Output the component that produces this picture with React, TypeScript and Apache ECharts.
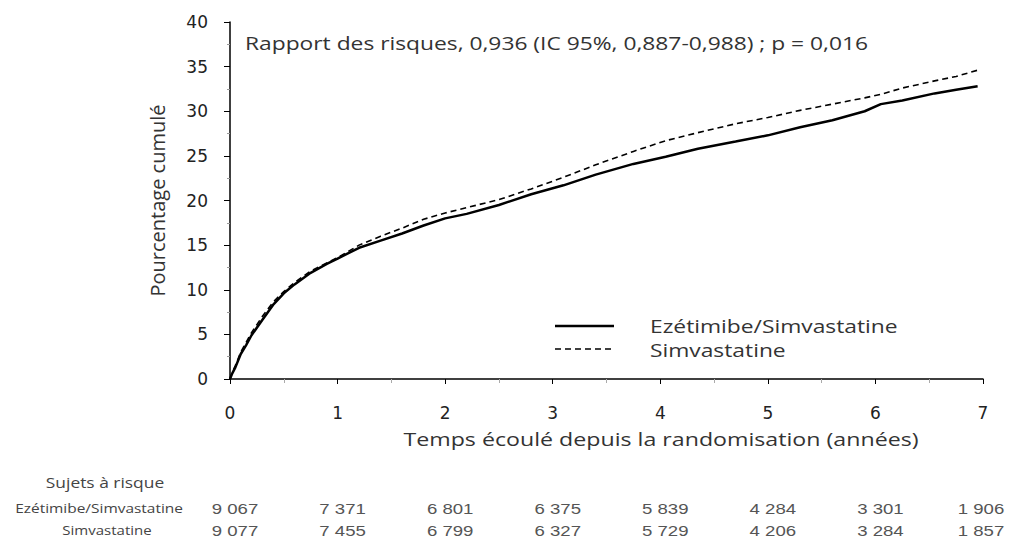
import React, { useEffect, useRef } from "react";
import * as echarts from "echarts";

// Time since randomisation (years)
const years = [0, 0.02, 0.05, 0.1, 0.15, 0.2, 0.3, 0.4, 0.5, 0.6, 0.75, 0.9, 1.0, 1.2, 1.4, 1.6, 1.8, 2.0, 2.2, 2.5, 2.8, 3.1, 3.4, 3.75, 4.05, 4.35, 4.7, 5.0, 5.3, 5.6, 5.9, 6.05, 6.25, 6.55, 6.75, 6.95];
// Cumulative percentage, Ezétimibe/Simvastatine
const ezetimibeSimvastatine = [0, 0.6, 1.3, 2.8, 3.8, 4.9, 6.6, 8.3, 9.6, 10.6, 11.9, 12.9, 13.5, 14.7, 15.5, 16.3, 17.2, 18.0, 18.5, 19.5, 20.7, 21.7, 22.9, 24.1, 24.9, 25.8, 26.6, 27.3, 28.2, 29.0, 30.0, 30.8, 31.2, 32.0, 32.4, 32.8];
// Cumulative percentage, Simvastatine
const simvastatine = [0, 0.7, 1.5, 3.0, 4.1, 5.2, 7.0, 8.6, 9.8, 10.8, 12.1, 13.0, 13.6, 15.0, 16.0, 16.9, 17.9, 18.6, 19.2, 20.1, 21.3, 22.6, 24.0, 25.5, 26.7, 27.6, 28.6, 29.3, 30.1, 30.8, 31.5, 31.9, 32.6, 33.4, 33.9, 34.6];

const seriesNames = ["Ezétimibe/Simvastatine", "Simvastatine"];
const annotation = "Rapport des risques, 0,936 (IC 95%, 0,887-0,988) ; p = 0,016";
const xAxisName = "Temps écoulé depuis la randomisation (années)";
const yAxisName = "Pourcentage cumulé";

// Subjects at risk table
const riskTitle = "Sujets à risque";
const riskYears = [0, 1, 2, 3, 4, 5, 6, 7];
const riskEzetimibeSimvastatine = ["9 067", "7 371", "6 801", "6 375", "5 839", "4 284", "3 301", "1 906"];
const riskSimvastatine = ["9 077", "7 455", "6 799", "6 327", "5 729", "4 206", "3 284", "1 857"];

const CAL = "'Open Sans', 'Noto Sans', sans-serif";
const ARI = "'DejaVu Sans', 'Liberation Sans', sans-serif";
const LIB = "'Liberation Sans', Arial, sans-serif";
const TXT = "#333";

export default function App() {
  const ref = useRef<HTMLDivElement>(null);
  useEffect(() => {
    if (!ref.current) return;
    const chart = echarts.init(ref.current, null, { renderer: "svg" });
    const option: any = {
      animation: false,
      backgroundColor: "#fff",
      grid: { left: 230, right: 26, top: 22, bottom: 163 },
      xAxis: {
        type: "value",
        min: 0,
        max: 7,
        interval: 1,
        axisLine: { show: true, lineStyle: { color: "#000", width: 1.5 } },
        axisTick: { show: true, length: 5, lineStyle: { color: "#000" } },
        minorTick: { show: true, splitNumber: 2, length: 4, lineStyle: { color: "#aaa" } },
        splitLine: { show: false },
        axisLabel: { fontFamily: ARI, fontSize: 17, color: "#222", margin: 25 },
      },
      yAxis: {
        type: "value",
        min: 0,
        max: 40,
        interval: 5,
        name: yAxisName,
        nameLocation: "middle",
        nameGap: 63,
        nameTextStyle: { fontFamily: CAL, fontSize: 20, color: TXT },
        axisLine: { show: true, lineStyle: { color: "#000", width: 1.5 } },
        axisTick: { show: true, length: 6, lineStyle: { color: "#000" } },
        minorTick: { show: true, splitNumber: 2, length: 3, lineStyle: { color: "#999" } },
        splitLine: { show: false },
        axisLabel: { fontFamily: ARI, fontSize: 17, color: "#222", margin: 22 },
      },
      series: [
        {
          name: seriesNames[0],
          type: "line",
          data: years.map((t, i) => [t, ezetimibeSimvastatine[i]]),
          symbol: "none",
          showSymbol: false,
          lineStyle: { color: "#000", width: 2.5, type: "solid" },
          itemStyle: { color: "#000" },
        },
        {
          name: seriesNames[1],
          type: "line",
          data: years.map((t, i) => [t, simvastatine[i]]),
          symbol: "none",
          showSymbol: false,
          lineStyle: { color: "#000", width: 1.6, type: [6, 4] },
          itemStyle: { color: "#000" },
        },
      ],
    };
    chart.setOption(option);

    const graphics: any[] = [
      {
        type: "text",
        x: 245,
        y: 43,
        scaleX: 1.2,
        style: { text: annotation, fontFamily: CAL, fontSize: 19, fill: TXT, verticalAlign: "middle", align: "left" },
      },
      {
        type: "text",
        x: 661,
        y: 438,
        scaleX: 1.22,
        style: { text: xAxisName, fontFamily: CAL, fontSize: 19, fill: TXT, verticalAlign: "middle", align: "center" },
      },
      // legend
      {
        type: "line",
        shape: { x1: 555, y1: 326, x2: 614, y2: 326 },
        style: { stroke: "#000", lineWidth: 2.5 },
      },
      {
        type: "line",
        shape: { x1: 555, y1: 349, x2: 614, y2: 349 },
        style: { stroke: "#000", lineWidth: 1.6, lineDash: [6, 4] },
      },
      {
        type: "text",
        x: 650,
        y: 326,
        scaleX: 1.2,
        style: { text: seriesNames[0], fontFamily: CAL, fontSize: 19, fill: TXT, verticalAlign: "middle", align: "left" },
      },
      {
        type: "text",
        x: 650,
        y: 350,
        scaleX: 1.2,
        style: { text: seriesNames[1], fontFamily: CAL, fontSize: 19, fill: TXT, verticalAlign: "middle", align: "left" },
      },
      // risk table labels
      {
        type: "text",
        x: 105,
        y: 483,
        scaleX: 1.2,
        style: { text: riskTitle, fontFamily: CAL, fontSize: 14.5, fill: "#444", verticalAlign: "middle", align: "center" },
      },
      {
        type: "text",
        x: 183,
        y: 508,
        scaleX: 1.19,
        style: { text: seriesNames[0], fontFamily: CAL, fontSize: 13, fill: "#444", verticalAlign: "middle", align: "right" },
      },
      {
        type: "text",
        x: 107,
        y: 530,
        scaleX: 1.25,
        style: { text: seriesNames[1], fontFamily: CAL, fontSize: 12, fill: "#444", verticalAlign: "middle", align: "center" },
      },
    ];
    riskYears.forEach((yr, i) => {
      const px = chart.convertToPixel({ xAxisIndex: 0 }, yr) as number;
      const cx = i === riskYears.length - 1 ? px - 2 : px + 5;
      graphics.push({
        type: "text",
        x: cx,
        y: 509,
        scaleX: 1.2,
        style: { text: riskEzetimibeSimvastatine[i], fontFamily: LIB, fontSize: 15.5, fill: "#555", verticalAlign: "middle", align: "center" },
      });
      graphics.push({
        type: "text",
        x: cx,
        y: 531,
        scaleX: 1.2,
        style: { text: riskSimvastatine[i], fontFamily: LIB, fontSize: 15.5, fill: "#555", verticalAlign: "middle", align: "center" },
      });
    });
    chart.setOption({ graphic: graphics });

    return () => chart.dispose();
  }, []);
  return <div ref={ref} style={{ position: "fixed", left: 0, top: 0, width: 1009, height: 542 }} />;
}
